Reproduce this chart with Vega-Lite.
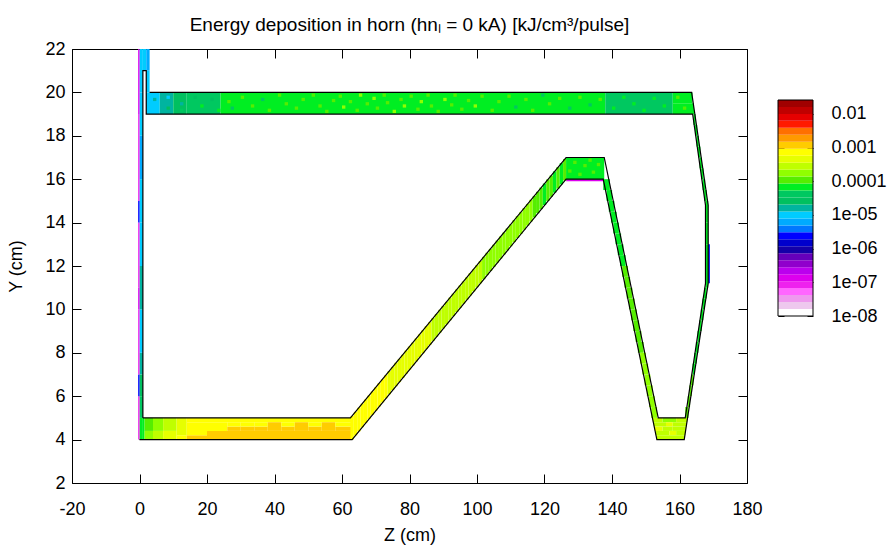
{"$schema":"https://vega.github.io/schema/vega-lite/v6.json","padding":{"left":6,"top":15,"right":0,"bottom":0},"background":"white","spacing":31,"bounds":"flush",
"datasets":{
"cells":[
{"x0":0,"x1":1,"y0":4,"y1":5,"e":6.7e-5},{"x0":0,"x1":1,"y0":5,"y1":6,"e":4.2e-5},{"x0":0,"x1":1,"y0":6,"y1":7,"e":2.6e-5},{"x0":0,"x1":1,"y0":7,"y1":8,"e":1.6e-5},{"x0":0,"x1":1,"y0":8,"y1":10,"e":1e-5},{"x0":0,"x1":1,"y0":10,"y1":12,"e":1.6e-5},{"x0":0,"x1":1,"y0":12,"y1":14,"e":1e-5},{"x0":0,"x1":1,"y0":14,"y1":16,"e":1e-5},{"x0":0,"x1":1,"y0":16,"y1":18,"e":6.2e-6},{"x0":0,"x1":1,"y0":18,"y1":20,"e":1e-5},{"x0":0,"x1":1,"y0":20,"y1":22,"e":1e-5},
{"x0":1,"x1":2,"y0":21,"y1":22,"e":1e-5},{"x0":2,"x1":3,"y0":21,"y1":22,"e":6.2e-6},{"x0":2,"x1":3,"y0":20,"y1":21,"e":1e-5},
{"x0":-0.4,"x1":0,"y0":4,"y1":6,"e":8.5e-8},{"x0":-0.4,"x1":0,"y0":6,"y1":7,"e":2.4e-6},{"x0":-0.4,"x1":0,"y0":7,"y1":10,"e":8.5e-8},{"x0":-0.4,"x1":0,"y0":10,"y1":11,"e":1.37e-7},{"x0":-0.4,"x1":0,"y0":11,"y1":14,"e":8.5e-8},{"x0":-0.4,"x1":0,"y0":14,"y1":15,"e":2.4e-6},{"x0":-0.4,"x1":0,"y0":15,"y1":19,"e":8.5e-8},{"x0":-0.4,"x1":0,"y0":19,"y1":22,"e":1.37e-7},
{"x0":126.4,"x1":137.4,"y0":15.9,"y1":16,"e":1.37e-7},{"x0":168.5,"x1":169,"y0":11.2,"y1":13,"e":2.4e-6},
{"x0":1,"x1":1.5,"y0":4,"y1":5,"e":6.7e-5},{"x0":1.5,"x1":4,"y0":4,"y1":4.4,"e":1.75e-4},{"x0":1.5,"x1":4,"y0":4.4,"y1":5,"e":1.1e-4},{"x0":4,"x1":7,"y0":4,"y1":4.4,"e":2.8e-4},{"x0":4,"x1":7,"y0":4.4,"y1":5,"e":1.75e-4},{"x0":7,"x1":11,"y0":4,"y1":4.4,"e":4.5e-4},{"x0":7,"x1":11,"y0":4.4,"y1":5,"e":2.8e-4},{"x0":11,"x1":14,"y0":4,"y1":4.2,"e":7.3e-4},{"x0":11,"x1":14,"y0":4.2,"y1":5,"e":4.5e-4},
{"x0":14,"x1":20,"y0":4,"y1":4.2,"e":1.18e-3},{"x0":14,"x1":20,"y0":4.2,"y1":4.4,"e":7.3e-4},{"x0":20,"x1":63,"y0":4,"y1":4.4,"e":1.18e-3},{"x0":14,"x1":63,"y0":4.8,"y1":5,"e":7.3e-4},
{"x0":14,"x1":26,"y0":4.4,"y1":4.8,"e":7.3e-4},{"x0":26,"x1":30,"y0":4.4,"y1":4.6,"e":1.18e-3},{"x0":26,"x1":30,"y0":4.6,"y1":4.8,"e":7.3e-4},{"x0":30,"x1":34,"y0":4.4,"y1":4.6,"e":1.18e-3},{"x0":30,"x1":34,"y0":4.6,"y1":4.8,"e":7.3e-4},{"x0":34,"x1":38,"y0":4.4,"y1":4.6,"e":1.18e-3},{"x0":34,"x1":38,"y0":4.6,"y1":4.8,"e":7.3e-4},{"x0":38,"x1":42,"y0":4.4,"y1":4.8,"e":1.18e-3},{"x0":42,"x1":46,"y0":4.4,"y1":4.6,"e":1.18e-3},{"x0":42,"x1":46,"y0":4.6,"y1":4.8,"e":7.3e-4},{"x0":46,"x1":50,"y0":4.4,"y1":4.8,"e":1.18e-3},{"x0":50,"x1":54,"y0":4.4,"y1":4.6,"e":1.18e-3},{"x0":50,"x1":54,"y0":4.6,"y1":4.8,"e":7.3e-4},{"x0":54,"x1":58,"y0":4.4,"y1":4.8,"e":1.18e-3},{"x0":58,"x1":63,"y0":4.4,"y1":4.6,"e":1.18e-3},{"x0":58,"x1":63,"y0":4.6,"y1":4.8,"e":7.3e-4},
{"x0":62.5,"x1":63.5,"y0":4,"y1":5.09,"e":7.3e-4},{"x0":63.5,"x1":64.5,"y0":4.19,"y1":5.28,"e":7.3e-4},{"x0":64.5,"x1":65.5,"y0":4.38,"y1":5.47,"e":7.3e-4},{"x0":65.5,"x1":66.5,"y0":4.57,"y1":5.66,"e":7.3e-4},{"x0":66.5,"x1":67.5,"y0":4.76,"y1":5.85,"e":7.3e-4},{"x0":67.5,"x1":68.5,"y0":4.95,"y1":6.03,"e":7.3e-4},{"x0":68.5,"x1":69.5,"y0":5.14,"y1":6.22,"e":7.3e-4},{"x0":69.5,"x1":70.5,"y0":5.33,"y1":6.41,"e":7.3e-4},{"x0":70.5,"x1":71.5,"y0":5.52,"y1":6.6,"e":7.3e-4},{"x0":71.5,"x1":72.5,"y0":5.71,"y1":6.78,"e":7.3e-4},{"x0":72.5,"x1":73.5,"y0":5.9,"y1":6.97,"e":7.3e-4},
{"x0":73.5,"x1":74.5,"y0":6.09,"y1":7.16,"e":4.5e-4},{"x0":74.5,"x1":75.5,"y0":6.28,"y1":7.35,"e":4.5e-4},{"x0":75.5,"x1":76.5,"y0":6.46,"y1":7.54,"e":4.5e-4},{"x0":76.5,"x1":77.5,"y0":6.65,"y1":7.72,"e":4.5e-4},{"x0":77.5,"x1":78.5,"y0":6.84,"y1":7.91,"e":4.5e-4},{"x0":78.5,"x1":79.5,"y0":7.03,"y1":8.1,"e":4.5e-4},{"x0":79.5,"x1":80.5,"y0":7.22,"y1":8.29,"e":4.5e-4},{"x0":80.5,"x1":81.5,"y0":7.41,"y1":8.47,"e":4.5e-4},{"x0":81.5,"x1":82.5,"y0":7.6,"y1":8.66,"e":4.5e-4},{"x0":82.5,"x1":83.5,"y0":7.79,"y1":8.85,"e":4.5e-4},{"x0":83.5,"x1":84.5,"y0":7.98,"y1":9.04,"e":4.5e-4},{"x0":84.5,"x1":85.5,"y0":8.17,"y1":9.23,"e":4.5e-4},{"x0":85.5,"x1":86.5,"y0":8.36,"y1":9.41,"e":4.5e-4},
{"x0":86.5,"x1":87.5,"y0":8.55,"y1":9.6,"e":2.8e-4},{"x0":87.5,"x1":88.5,"y0":8.74,"y1":9.79,"e":2.8e-4},{"x0":88.5,"x1":89.5,"y0":8.93,"y1":9.98,"e":2.8e-4},{"x0":89.5,"x1":90.5,"y0":9.12,"y1":10.16,"e":2.8e-4},{"x0":90.5,"x1":91.5,"y0":9.31,"y1":10.35,"e":2.8e-4},{"x0":91.5,"x1":92.5,"y0":9.5,"y1":10.54,"e":2.8e-4},{"x0":92.5,"x1":93.5,"y0":9.69,"y1":10.73,"e":2.8e-4},{"x0":93.5,"x1":94.5,"y0":9.88,"y1":10.92,"e":2.8e-4},{"x0":94.5,"x1":95.5,"y0":10.07,"y1":11.1,"e":2.8e-4},{"x0":95.5,"x1":96.5,"y0":10.26,"y1":11.29,"e":2.8e-4},{"x0":96.5,"x1":97.5,"y0":10.45,"y1":11.48,"e":2.8e-4},{"x0":97.5,"x1":98.5,"y0":10.64,"y1":11.67,"e":2.8e-4},{"x0":98.5,"x1":99.5,"y0":10.83,"y1":11.85,"e":2.8e-4},{"x0":99.5,"x1":100.5,"y0":11.02,"y1":12.04,"e":2.8e-4},{"x0":100.5,"x1":101.5,"y0":11.2,"y1":12.23,"e":2.8e-4},
{"x0":101.5,"x1":102.5,"y0":11.39,"y1":12.42,"e":1.75e-4},{"x0":102.5,"x1":103.5,"y0":11.58,"y1":12.61,"e":1.75e-4},{"x0":103.5,"x1":104.5,"y0":11.77,"y1":12.79,"e":1.75e-4},{"x0":104.5,"x1":105.5,"y0":11.96,"y1":12.98,"e":1.75e-4},{"x0":105.5,"x1":106.5,"y0":12.15,"y1":13.17,"e":1.75e-4},{"x0":106.5,"x1":107.5,"y0":12.34,"y1":13.36,"e":1.75e-4},{"x0":107.5,"x1":108.5,"y0":12.53,"y1":13.54,"e":1.75e-4},{"x0":108.5,"x1":109.5,"y0":12.72,"y1":13.73,"e":1.75e-4},{"x0":109.5,"x1":110.5,"y0":12.91,"y1":13.92,"e":1.75e-4},{"x0":110.5,"x1":111.5,"y0":13.1,"y1":14.11,"e":1.75e-4},{"x0":111.5,"x1":112.5,"y0":13.29,"y1":14.3,"e":1.75e-4},{"x0":112.5,"x1":113.5,"y0":13.48,"y1":14.48,"e":1.75e-4},{"x0":113.5,"x1":114.5,"y0":13.67,"y1":14.67,"e":1.75e-4},{"x0":114.5,"x1":115.5,"y0":13.86,"y1":14.86,"e":1.75e-4},{"x0":115.5,"x1":116.5,"y0":14.05,"y1":15.05,"e":1.75e-4},
{"x0":116.5,"x1":117.5,"y0":14.24,"y1":15.23,"e":1.1e-4},{"x0":117.5,"x1":118.5,"y0":14.43,"y1":15.42,"e":1.1e-4},{"x0":118.5,"x1":119.5,"y0":14.62,"y1":15.61,"e":1.1e-4},{"x0":119.5,"x1":120.5,"y0":14.81,"y1":15.8,"e":6.7e-5},{"x0":120.5,"x1":121.5,"y0":15,"y1":15.99,"e":1.1e-4},{"x0":121.5,"x1":122.5,"y0":15.19,"y1":16.17,"e":1.1e-4},{"x0":122.5,"x1":123.5,"y0":15.38,"y1":16.36,"e":6.7e-5},{"x0":123.5,"x1":124.5,"y0":15.57,"y1":16.55,"e":1.1e-4},{"x0":124.5,"x1":125.5,"y0":15.76,"y1":16.74,"e":6.7e-5},{"x0":125.5,"x1":126.5,"y0":15.94,"y1":16.93,"e":1.1e-4},
{"x0":126.4,"x1":137.7,"y0":16,"y1":17,"e":6.7e-5},{"x0":127,"x1":128,"y0":16.3,"y1":16.45,"e":1.1e-4},{"x0":128.5,"x1":129.5,"y0":16.7,"y1":16.85,"e":1.1e-4},{"x0":130,"x1":131,"y0":16.15,"y1":16.3,"e":1.1e-4},{"x0":131.5,"x1":132.5,"y0":16.55,"y1":16.7,"e":1.1e-4},{"x0":133,"x1":134,"y0":16.8,"y1":16.95,"e":1.1e-4},{"x0":134,"x1":135,"y0":16.25,"y1":16.4,"e":1.1e-4},{"x0":135.5,"x1":136.5,"y0":16.6,"y1":16.75,"e":1.1e-4},
{"x0":137.4,"x1":139.37,"y0":15.5,"y1":16,"e":6.7e-5},{"x0":138.39,"x1":140.03,"y0":15,"y1":15.5,"e":6.7e-5},{"x0":139.05,"x1":140.7,"y0":14.5,"y1":15,"e":6.7e-5},{"x0":139.72,"x1":141.37,"y0":14,"y1":14.5,"e":6.7e-5},{"x0":140.38,"x1":142.03,"y0":13.5,"y1":14,"e":6.7e-5},{"x0":141.04,"x1":142.7,"y0":13,"y1":13.5,"e":6.7e-5},{"x0":141.71,"x1":143.37,"y0":12.5,"y1":13,"e":6.7e-5},{"x0":142.37,"x1":144.03,"y0":12,"y1":12.5,"e":6.7e-5},{"x0":143.03,"x1":144.7,"y0":11.5,"y1":12,"e":1.1e-4},{"x0":143.69,"x1":145.36,"y0":11,"y1":11.5,"e":1.1e-4},{"x0":144.36,"x1":146.03,"y0":10.5,"y1":11,"e":1.1e-4},{"x0":145.02,"x1":146.7,"y0":10,"y1":10.5,"e":1.1e-4},{"x0":145.68,"x1":147.36,"y0":9.5,"y1":10,"e":1.1e-4},{"x0":146.34,"x1":148.03,"y0":9,"y1":9.5,"e":1.1e-4},{"x0":147.01,"x1":148.7,"y0":8.5,"y1":9,"e":1.1e-4},{"x0":147.67,"x1":149.36,"y0":8,"y1":8.5,"e":1.1e-4},{"x0":148.33,"x1":150.03,"y0":7.5,"y1":8,"e":1.75e-4},{"x0":149,"x1":150.7,"y0":7,"y1":7.5,"e":1.75e-4},{"x0":149.66,"x1":151.36,"y0":6.5,"y1":7,"e":1.75e-4},{"x0":150.32,"x1":152.03,"y0":6,"y1":6.5,"e":1.75e-4},{"x0":150.98,"x1":152.7,"y0":5.5,"y1":6,"e":1.75e-4},{"x0":151.64,"x1":153.36,"y0":5,"y1":5.5,"e":1.75e-4},
{"x0":152.11,"x1":155,"y0":4.8,"y1":5,"e":2.8e-4},{"x0":155,"x1":159,"y0":4.8,"y1":5,"e":1.75e-4},{"x0":159,"x1":162.29,"y0":4.8,"y1":5,"e":2.8e-4},{"x0":152.38,"x1":156,"y0":4.6,"y1":4.8,"e":2.8e-4},{"x0":156,"x1":158,"y0":4.6,"y1":4.8,"e":4.5e-4},{"x0":158,"x1":162.09,"y0":4.6,"y1":4.8,"e":2.8e-4},{"x0":152.64,"x1":155,"y0":4.4,"y1":4.6,"e":4.5e-4},{"x0":155,"x1":158,"y0":4.4,"y1":4.6,"e":2.8e-4},{"x0":158,"x1":161.89,"y0":4.4,"y1":4.6,"e":2.8e-4},{"x0":152.9,"x1":157,"y0":4.2,"y1":4.4,"e":2.8e-4},{"x0":157,"x1":159,"y0":4.2,"y1":4.4,"e":4.5e-4},{"x0":159,"x1":161.7,"y0":4.2,"y1":4.4,"e":2.8e-4},{"x0":153.17,"x1":161.5,"y0":4,"y1":4.2,"e":2.8e-4},
{"x0":161.7,"x1":162.64,"y0":5,"y1":5.5,"e":1.1e-4},{"x0":162.43,"x1":163.13,"y0":5.5,"y1":6,"e":1.1e-4},{"x0":162.91,"x1":163.62,"y0":6,"y1":6.5,"e":1.1e-4},{"x0":163.39,"x1":164.11,"y0":6.5,"y1":7,"e":1.1e-4},{"x0":163.88,"x1":164.6,"y0":7,"y1":7.5,"e":6.7e-5},{"x0":164.36,"x1":165.1,"y0":7.5,"y1":8,"e":6.7e-5},{"x0":164.85,"x1":165.59,"y0":8,"y1":8.5,"e":6.7e-5},{"x0":165.33,"x1":166.08,"y0":8.5,"y1":9,"e":6.7e-5},{"x0":165.82,"x1":166.57,"y0":9,"y1":9.5,"e":6.7e-5},{"x0":166.3,"x1":167.07,"y0":9.5,"y1":10,"e":6.7e-5},{"x0":166.78,"x1":167.56,"y0":10,"y1":10.5,"e":6.7e-5},{"x0":167.27,"x1":168.05,"y0":10.5,"y1":11,"e":6.7e-5},{"x0":167.7,"x1":168.5,"y0":11,"y1":12,"e":6.7e-5},{"x0":167.7,"x1":168.5,"y0":12,"y1":13,"e":6.7e-5},{"x0":167.7,"x1":168.5,"y0":13,"y1":14,"e":6.7e-5},{"x0":167.7,"x1":168.5,"y0":14,"y1":15,"e":6.7e-5},{"x0":167.29,"x1":168.08,"y0":15,"y1":15.5,"e":6.7e-5},{"x0":166.84,"x1":167.6,"y0":15.5,"y1":16,"e":6.7e-5},{"x0":166.39,"x1":167.13,"y0":16,"y1":16.5,"e":6.7e-5},{"x0":165.94,"x1":166.66,"y0":16.5,"y1":17,"e":6.7e-5},{"x0":165.48,"x1":166.19,"y0":17,"y1":17.5,"e":6.7e-5},{"x0":165.03,"x1":165.72,"y0":17.5,"y1":18,"e":6.7e-5},{"x0":164.58,"x1":165.25,"y0":18,"y1":18.5,"e":6.7e-5},{"x0":164.13,"x1":164.78,"y0":18.5,"y1":19,"e":6.7e-5},
{"x0":2,"x1":6,"y0":19,"y1":20,"e":1e-5},{"x0":6,"x1":10,"y0":19,"y1":20,"e":1.6e-5},{"x0":10,"x1":14,"y0":19,"y1":20,"e":2.6e-5},{"x0":14,"x1":24,"y0":19,"y1":20,"e":4.2e-5},{"x0":24,"x1":138,"y0":19,"y1":20,"e":6.7e-5},{"x0":138,"x1":158,"y0":19,"y1":20,"e":4.2e-5},{"x0":158,"x1":164.3,"y0":19,"y1":19.5,"e":6.7e-5},{"x0":158,"x1":163.84,"y0":19.5,"y1":20,"e":6.7e-5},
{"x0":4,"x1":5,"y0":19.6,"y1":19.75,"e":1.6e-5},{"x0":8,"x1":9,"y0":19.2,"y1":19.35,"e":2.6e-5},{"x0":8,"x1":9,"y0":19.7,"y1":19.85,"e":1e-5},{"x0":12,"x1":13,"y0":19.4,"y1":19.55,"e":1.6e-5},{"x0":12,"x1":13,"y0":19.1,"y1":19.25,"e":4.2e-5},{"x0":16,"x1":17,"y0":19.7,"y1":19.85,"e":2.6e-5},{"x0":18,"x1":19,"y0":19.3,"y1":19.45,"e":6.7e-5},{"x0":21,"x1":22,"y0":19.6,"y1":19.75,"e":2.6e-5},{"x0":23,"x1":24,"y0":19.1,"y1":19.25,"e":6.7e-5},{"x0":26,"x1":27,"y0":19.5,"y1":19.65,"e":1.1e-4},{"x0":27,"x1":28,"y0":19.2,"y1":19.35,"e":4.2e-5},{"x0":30,"x1":31,"y0":19.7,"y1":19.85,"e":1.1e-4},{"x0":33,"x1":34,"y0":19.3,"y1":19.45,"e":1.1e-4},{"x0":36,"x1":37,"y0":19.6,"y1":19.75,"e":4.2e-5},{"x0":38,"x1":39,"y0":19.1,"y1":19.25,"e":1.1e-4},{"x0":41,"x1":42,"y0":19.8,"y1":19.95,"e":1.1e-4},{"x0":43,"x1":44,"y0":19.4,"y1":19.55,"e":1.1e-4},{"x0":46,"x1":47,"y0":19.2,"y1":19.35,"e":1.1e-4},{"x0":48,"x1":49,"y0":19.6,"y1":19.75,"e":1.1e-4},{"x0":51,"x1":52,"y0":19.8,"y1":19.95,"e":1.1e-4},{"x0":53,"x1":54,"y0":19.3,"y1":19.45,"e":1.1e-4},{"x0":55,"x1":56,"y0":19.05,"y1":19.2,"e":1.1e-4},{"x0":57,"x1":58,"y0":19.55,"y1":19.7,"e":1.1e-4},{"x0":59,"x1":60,"y0":19.75,"y1":19.9,"e":1.1e-4},{"x0":60,"x1":61,"y0":19.25,"y1":19.4,"e":1.75e-4},{"x0":62,"x1":63,"y0":19.5,"y1":19.65,"e":1.1e-4},{"x0":64,"x1":65,"y0":19.1,"y1":19.25,"e":1.1e-4},{"x0":65,"x1":66,"y0":19.8,"y1":19.95,"e":1.75e-4},{"x0":67,"x1":68,"y0":19.4,"y1":19.55,"e":1.1e-4},{"x0":69,"x1":70,"y0":19.65,"y1":19.8,"e":1.75e-4},{"x0":70,"x1":71,"y0":19.2,"y1":19.35,"e":1.1e-4},{"x0":72,"x1":73,"y0":19.8,"y1":19.95,"e":1.1e-4},{"x0":73,"x1":74,"y0":19.45,"y1":19.6,"e":1.1e-4},{"x0":75,"x1":76,"y0":19.05,"y1":19.2,"e":1.75e-4},{"x0":77,"x1":78,"y0":19.6,"y1":19.75,"e":1.1e-4},{"x0":78,"x1":79,"y0":19.3,"y1":19.45,"e":1.75e-4},{"x0":80,"x1":81,"y0":19.75,"y1":19.9,"e":1.1e-4},{"x0":82,"x1":83,"y0":19.15,"y1":19.3,"e":1.1e-4},{"x0":83,"x1":84,"y0":19.5,"y1":19.65,"e":1.75e-4},{"x0":85,"x1":86,"y0":19.8,"y1":19.95,"e":1.1e-4},{"x0":86,"x1":87,"y0":19.3,"y1":19.45,"e":1.1e-4},{"x0":88,"x1":89,"y0":19.05,"y1":19.2,"e":1.1e-4},{"x0":90,"x1":91,"y0":19.6,"y1":19.75,"e":1.75e-4},{"x0":92,"x1":93,"y0":19.35,"y1":19.5,"e":1.1e-4},{"x0":93,"x1":94,"y0":19.8,"y1":19.95,"e":1.1e-4},{"x0":95,"x1":96,"y0":19.15,"y1":19.3,"e":1.1e-4},{"x0":97,"x1":98,"y0":19.55,"y1":19.7,"e":1.1e-4},{"x0":99,"x1":100,"y0":19.3,"y1":19.45,"e":1.75e-4},{"x0":101,"x1":102,"y0":19.75,"y1":19.9,"e":1.1e-4},{"x0":104,"x1":105,"y0":19.1,"y1":19.25,"e":1.1e-4},{"x0":106,"x1":107,"y0":19.5,"y1":19.65,"e":1.1e-4},{"x0":109,"x1":110,"y0":19.75,"y1":19.9,"e":1.1e-4},{"x0":111,"x1":112,"y0":19.25,"y1":19.4,"e":4.2e-5},{"x0":114,"x1":115,"y0":19.6,"y1":19.75,"e":1.1e-4},{"x0":116,"x1":117,"y0":19.1,"y1":19.25,"e":1.1e-4},{"x0":119,"x1":120,"y0":19.8,"y1":19.95,"e":4.2e-5},{"x0":121,"x1":122,"y0":19.4,"y1":19.55,"e":1.1e-4},{"x0":124,"x1":125,"y0":19.65,"y1":19.8,"e":1.1e-4},{"x0":127,"x1":128,"y0":19.2,"y1":19.35,"e":4.2e-5},{"x0":130,"x1":131,"y0":19.7,"y1":19.85,"e":1.1e-4},{"x0":133,"x1":134,"y0":19.35,"y1":19.5,"e":4.2e-5},{"x0":136,"x1":137,"y0":19.6,"y1":19.75,"e":1.1e-4},{"x0":140,"x1":141,"y0":19.2,"y1":19.35,"e":6.7e-5},{"x0":143,"x1":144,"y0":19.7,"y1":19.85,"e":6.7e-5},{"x0":146,"x1":147,"y0":19.4,"y1":19.55,"e":6.7e-5},{"x0":149,"x1":150,"y0":19.1,"y1":19.25,"e":6.7e-5},{"x0":152,"x1":153,"y0":19.65,"y1":19.8,"e":6.7e-5},{"x0":155,"x1":156,"y0":19.3,"y1":19.45,"e":6.7e-5},{"x0":159,"x1":160,"y0":19.7,"y1":19.85,"e":1.1e-4},{"x0":161,"x1":162,"y0":19.2,"y1":19.35,"e":1.1e-4}
],
"outline":[
{"p":"inner","o":1,"x":1,"y":5},{"p":"inner","o":2,"x":62.5,"y":5},{"p":"inner","o":3,"x":126.4,"y":17},{"p":"inner","o":4,"x":137.7,"y":17},{"p":"inner","o":5,"x":153.7,"y":5},{"p":"inner","o":6,"x":161.7,"y":5},{"p":"inner","o":7,"x":167.7,"y":11.2},{"p":"inner","o":8,"x":167.7,"y":14.8},{"p":"inner","o":9,"x":163.9,"y":19},{"p":"inner","o":10,"x":2,"y":19},{"p":"inner","o":11,"x":2,"y":21},{"p":"inner","o":12,"x":1,"y":21},{"p":"inner","o":13,"x":1,"y":5},
{"p":"outer","o":1,"x":0,"y":4},{"p":"outer","o":2,"x":63,"y":4},{"p":"outer","o":3,"x":126.4,"y":16},{"p":"outer","o":4,"x":137.4,"y":16},{"p":"outer","o":5,"x":153.3,"y":4},{"p":"outer","o":6,"x":161.4,"y":4},{"p":"outer","o":7,"x":168.5,"y":11.2},{"p":"outer","o":8,"x":168.5,"y":14.8},{"p":"outer","o":9,"x":163.6,"y":20},{"p":"outer","o":10,"x":3,"y":20}
],
"bar":[
{"lo":1e-8,"hi":1.61e-8,"e":1.27e-8},{"lo":1.61e-8,"hi":2.59e-8,"e":2.04e-8},{"lo":2.59e-8,"hi":4.18e-8,"e":3.3e-8},{"lo":4.18e-8,"hi":6.73e-8,"e":5.3e-8},{"lo":6.73e-8,"hi":1.08e-7,"e":8.5e-8},{"lo":1.08e-7,"hi":1.75e-7,"e":1.37e-7},{"lo":1.75e-7,"hi":2.81e-7,"e":2.2e-7},{"lo":2.81e-7,"hi":4.53e-7,"e":3.6e-7},{"lo":4.53e-7,"hi":7.29e-7,"e":5.7e-7},{"lo":7.29e-7,"hi":1.17e-6,"e":9.2e-7},{"lo":1.17e-6,"hi":1.89e-6,"e":1.5e-6},{"lo":1.89e-6,"hi":3.05e-6,"e":2.4e-6},{"lo":3.05e-6,"hi":4.91e-6,"e":3.9e-6},{"lo":4.91e-6,"hi":7.91e-6,"e":6.2e-6},{"lo":7.91e-6,"hi":1.27e-5,"e":1e-5},{"lo":1.27e-5,"hi":2.05e-5,"e":1.6e-5},{"lo":2.05e-5,"hi":3.3e-5,"e":2.6e-5},{"lo":3.3e-5,"hi":5.31e-5,"e":4.2e-5},{"lo":5.31e-5,"hi":8.55e-5,"e":6.7e-5},{"lo":8.55e-5,"hi":1.38e-4,"e":1.1e-4},{"lo":1.38e-4,"hi":2.22e-4,"e":1.75e-4},{"lo":2.22e-4,"hi":3.57e-4,"e":2.8e-4},{"lo":3.57e-4,"hi":5.75e-4,"e":4.5e-4},{"lo":5.75e-4,"hi":9.27e-4,"e":7.3e-4},{"lo":9.27e-4,"hi":1.49e-3,"e":1.18e-3},{"lo":1.49e-3,"hi":2.4e-3,"e":1.9e-3},{"lo":2.4e-3,"hi":3.87e-3,"e":3e-3},{"lo":3.87e-3,"hi":6.24e-3,"e":4.9e-3},{"lo":6.24e-3,"hi":1e-2,"e":7.9e-3},{"lo":1e-2,"hi":1.62e-2,"e":1.27e-2},{"lo":1.62e-2,"hi":2.6e-2,"e":2.05e-2}
]},
"hconcat":[
{"width":675,"height":434,
"title":{"text":"Energy deposition in horn (hnₗ = 0 kA) [kJ/cm³/pulse]","fontSize":19,"fontWeight":"normal","font":"Liberation Sans","offset":5,"anchor":"middle","color":"black"},
"view":{"stroke":"black","strokeWidth":1},
"layer":[
{"data":{"name":"cells"},"mark":{"type":"rect"},
"encoding":{
"x":{"field":"x0","type":"quantitative","scale":{"domain":[-20,180],"nice":false,"zero":false},"axis":{"title":"Z (cm)","orient":"bottom","values":[-20,0,20,40,60,80,100,120,140,160,180],"labelExpr":"datum.value==-20?'-20':datum.label","labelFlush":false,"grid":false,"domain":false,"tickSize":-9,"labelPadding":26,"titlePadding":8,"tickColor":"black","labelAngle":0}},
"x2":{"field":"x1"},
"y":{"field":"y0","type":"quantitative","scale":{"domain":[2,22],"nice":false,"zero":false},"axis":{"title":"Y (cm)","orient":"left","values":[2,4,6,8,10,12,14,16,18,20,22],"grid":false,"domain":false,"tickSize":-9,"labelPadding":16,"titlePadding":19.5,"tickColor":"black"}},
"y2":{"field":"y1"},
"color":{"field":"e","type":"quantitative","legend":null,"scale":{"type":"threshold","domain":[1.61e-8,2.59e-8,4.18e-8,6.73e-8,1.08e-7,1.75e-7,2.81e-7,4.53e-7,7.29e-7,1.17e-6,1.89e-6,3.05e-6,4.91e-6,7.91e-6,1.27e-5,2.05e-5,3.3e-5,5.31e-5,8.55e-5,1.38e-4,2.22e-4,3.57e-4,5.75e-4,9.27e-4,1.49e-3,2.4e-3,3.87e-3,6.24e-3,1e-2,1.62e-2],"range":["#ffffff","#eec8ee","#ee99ee","#ff66ff","#ee22ee","#dd00ee","#bb00ee","#9000cc","#6600bb","#1400a8","#0000cc","#0000ff","#0077ff","#00aaff","#00ccff","#00b4a0","#00c060","#00c860","#00ee22","#55ee00","#90ff00","#bfff00","#e6ff00","#ffff00","#ffcc00","#ff9a00","#ff7000","#ff1a00","#e60000","#c00000","#a00000"]}}
}},
{"data":{"name":"outline"},"mark":{"type":"line","color":"black","strokeWidth":1.2,"interpolate":"linear"},
"encoding":{
"x":{"field":"x","type":"quantitative","axis":{"title":null,"orient":"top","labels":false,"values":[-20,0,20,40,60,80,100,120,140,160,180],"grid":false,"domain":false,"tickSize":-9,"tickColor":"black"}},
"y":{"field":"y","type":"quantitative","axis":{"title":null,"orient":"right","labels":false,"values":[2,4,6,8,10,12,14,16,18,20,22],"grid":false,"domain":false,"tickSize":-9,"tickColor":"black"}},
"detail":{"field":"p"},"order":{"field":"o"}
}}
],
"resolve":{"axis":{"x":"independent","y":"independent"}}
},
{"width":35,"height":434,"view":{"stroke":null},
"layer":[
{"data":{"name":"bar"},"mark":{"type":"rect"},
"encoding":{
"x":{"datum":0,"type":"quantitative","scale":{"domain":[0,1],"nice":false},"axis":null},
"x2":{"datum":1},
"y":{"field":"lo","type":"quantitative","scale":{"type":"log","domain":[1e-8,0.026],"range":[267,51],"nice":false},"axis":{"title":null,"orient":"left","labels":false,"values":[1e-8,1e-7,1e-6,1e-5,1e-4,1e-3,1e-2],"grid":false,"domain":false,"tickSize":-6,"tickColor":"black"}},
"y2":{"field":"hi"},
"color":{"field":"e","type":"quantitative","legend":null,"scale":{"type":"threshold","domain":[1.61e-8,2.59e-8,4.18e-8,6.73e-8,1.08e-7,1.75e-7,2.81e-7,4.53e-7,7.29e-7,1.17e-6,1.89e-6,3.05e-6,4.91e-6,7.91e-6,1.27e-5,2.05e-5,3.3e-5,5.31e-5,8.55e-5,1.38e-4,2.22e-4,3.57e-4,5.75e-4,9.27e-4,1.49e-3,2.4e-3,3.87e-3,6.24e-3,1e-2,1.62e-2],"range":["#ffffff","#eec8ee","#ee99ee","#ff66ff","#ee22ee","#dd00ee","#bb00ee","#9000cc","#6600bb","#1400a8","#0000cc","#0000ff","#0077ff","#00aaff","#00ccff","#00b4a0","#00c060","#00c860","#00ee22","#55ee00","#90ff00","#bfff00","#e6ff00","#ffff00","#ffcc00","#ff9a00","#ff7000","#ff1a00","#e60000","#c00000","#a00000"]}}
}},
{"data":{"name":"bar"},"transform":[{"aggregate":[{"op":"min","field":"lo","as":"bottom"},{"op":"max","field":"hi","as":"top"}]}],"mark":{"type":"rect","filled":false,"stroke":"black","strokeWidth":1},
"encoding":{
"x":{"datum":0,"type":"quantitative","axis":null},
"x2":{"datum":1},
"y":{"field":"bottom","type":"quantitative","axis":{"title":null,"orient":"right","values":[1e-8,1e-7,1e-6,1e-5,1e-4,1e-3,1e-2],"labelExpr":"datum.value<5e-5?replace(format(datum.value,'.0e'),'e-','e-0'):format(datum.value,'~g')","grid":false,"domain":false,"tickSize":-6,"labelPadding":24,"tickColor":"black"}},
"y2":{"field":"top"}
}}
],
"resolve":{"axis":{"y":"independent"}}
}
],
"config":{"font":"Liberation Sans","axis":{"labelFont":"Liberation Sans","titleFont":"Liberation Sans","labelFontSize":18,"titleFontSize":18,"titleFontWeight":"normal","labelColor":"black","titleColor":"black","tickWidth":1}}
}
